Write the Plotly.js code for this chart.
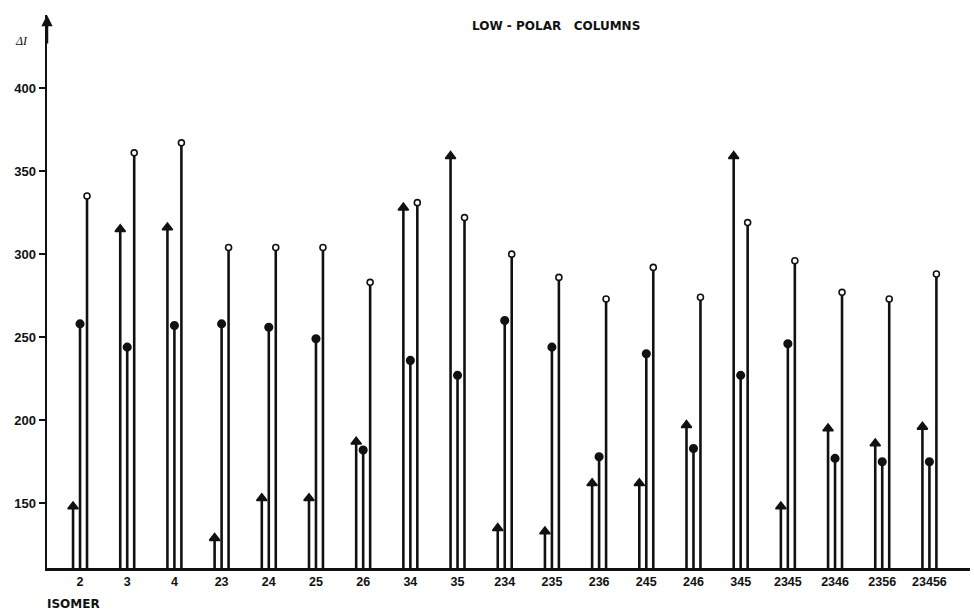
<!DOCTYPE html>
<html><head><meta charset="utf-8">
<script src="https://cdn.plot.ly/plotly-3.0.1.min.js"></script>
<style>body{margin:0;background:#fff}#chart{width:974px;height:613px}</style>
</head><body><div id="chart"></div>
<script>
const isomers = ["2","3","4","23","24","25","26","34","35","234","235","236","245","246","345","2345","2346","2356","23456"];
const triangleSeries = [148,315,316,129,153,153,187,328,359,135,133,162,162,197,359,148,195,186,196];
const filledSeries   = [258,244,257,258,256,249,182,236,227,260,244,178,240,183,227,246,177,175,175];
const openSeries     = [335,361,367,304,304,304,283,331,322,300,286,273,292,274,319,296,277,273,288];

const idx = isomers.map((_, i) => i);
const off = 0.148;
const xs = d => idx.map(i => i + d);

function stem(d, vals) {
  return {type:'bar', x: xs(d), y: vals, width: 0.055, marker:{color:'#111'}, hoverinfo:'skip', showlegend:false};
}
function pts(d, vals, sym, size, fill) {
  return {type:'scatter', mode:'markers', x: xs(d), y: vals, showlegend:false,
    marker:{symbol: sym, size: size, color: fill, line:{color:'#111', width: 1.6}}};
}
const data = [
  stem(-off, triangleSeries), stem(0, filledSeries), stem(off, openSeries),
  pts(-off, triangleSeries, 'triangle-up', 9, '#111'),
  pts(0, filledSeries, 'circle', 7.5, '#111'),
  pts(off, openSeries, 'circle', 6, '#fff')
];
const font = {family:'Liberation Sans, Arial, sans-serif', color:'#111'};
const layout = {
  width: 974, height: 613,
  margin: {l: 47, r: 4, t: 15, b: 45},
  paper_bgcolor: '#fff', plot_bgcolor: '#fff',
  barmode: 'overlay',
  showlegend: false,
  font: font,
  xaxis: {range: [-0.70, 18.86], tickvals: idx, ticktext: isomers.map(s => '<b>' + s + '</b>'),
    showgrid: false, zeroline: false, showline: true, linecolor: '#111', linewidth: 2.5,
    ticks: '', tickfont: {family: font.family, size: 12.5, color: '#111'}},
  yaxis: {range: [111, 444], tickvals: [150,200,250,300,350,400],
    ticktext: ['150','200','250','300','350','400'].map(s => '<b>' + s + '</b>'),
    showgrid: false, zeroline: false, showline: true, linecolor: '#111', linewidth: 2.5,
    ticks: 'outside', ticklen: 6, tickwidth: 2, tickcolor: '#111',
    tickfont: {family: font.family, size: 13, color: '#111'}},
  annotations: [
    {xref:'paper', yref:'paper', x: 0, y: 1.0, ax: 0, ay: 30, axref:'pixel', ayref:'pixel',
     showarrow: true, arrowhead: 2, arrowsize: 0.9, arrowwidth: 2.5, arrowcolor: '#111', text: ''},
    {xref:'paper', yref:'paper', x: -0.018, y: 0.953, xanchor:'right', yanchor:'middle', showarrow:false,
     text: '<i>ΔI</i>', font: {family: 'Liberation Serif, serif', size: 12, color:'#111'}},
    {xref:'paper', yref:'paper', x: 0.551, y: 0.981, xanchor:'center', yanchor:'middle', showarrow:false,
     text: '<b>LOW - POLAR   COLUMNS</b>', font: {family: 'DejaVu Sans, sans-serif', size: 12, color:'#111'}},
    {xref:'paper', yref:'paper', x: -0.002, y: -0.065, xanchor:'left', yanchor:'middle', showarrow:false,
     text: '<b>ISOMER</b>', font: {family: 'DejaVu Sans, sans-serif', size: 12, color:'#111'}}
  ]
};
Plotly.newPlot('chart', data, layout, {displayModeBar: false, staticPlot: true});
</script></body></html>
